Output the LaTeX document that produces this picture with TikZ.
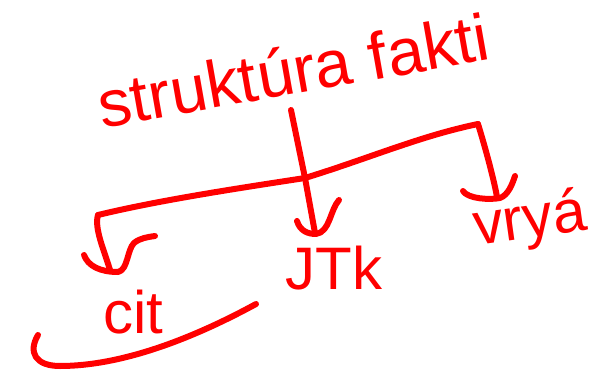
\documentclass[tikz,border=0pt]{standalone}
\usepackage{fontspec}
\setmainfont{Liberation Sans}
\begin{document}
\begin{tikzpicture}[x=1pt,y=-1pt,
  pen/.style={draw=red, line width=6pt, line cap=round, line join=round},
  hand/.style={text=red, inner sep=0pt, font=\fontsize{60}{60}\selectfont}]
\useasboundingbox (0,0) rectangle (615,374);
% title
\node[hand, font=\fontsize{66}{66}\selectfont, rotate=10] (T) at (293,70) {struktúra fakti};
% children
\node[hand] (cit) at (133,312) {cit};
\node[hand] (jtk) at (334,268) {JTk};
\node[hand, rotate=8] (vr) at (530,222) {vryá};
% coordinates
\coordinate (Ttop) at (291,110);
\coordinate (J) at (305,178);
\coordinate (Lc) at (98,215);
\coordinate (Rc) at (478,124);
\coordinate (Ltip) at (110,270);
\coordinate (Mtip) at (315,233);
\coordinate (Rtip) at (497,197);
% trunk
\draw[pen] (Ttop) -- (J);
% branch bar
\draw[pen] (Lc) .. controls (160,200) and (240,188) .. (J) .. controls (370,158) and (420,136) .. (Rc);
% drops
\draw[pen] (Lc) .. controls (94,228) and (104,250) .. (Ltip);
\draw[pen] (J) -- (Mtip);
\draw[pen] (Rc) .. controls (486,150) and (494,180) .. (Rtip);
% hooks
\draw[pen] (84,255) .. controls (88,266) and (100,272) .. (118,272) .. controls (128,270) and (127,250) .. (134,243) .. controls (140,238) and (148,237) .. (155,236);
\draw[pen] (297,221) .. controls (300,231) and (308,234) .. (316,234) .. controls (330,232) and (330,210) .. (339,200);
\draw[pen] (463,191) .. controls (468,199) and (490,200) .. (500,198) .. controls (508,195) and (512,185) .. (515,176);
% underline swoosh
\draw[pen] (38,335) .. controls (28,352) and (35,366) .. (60,366) .. controls (120,366) and (190,340) .. (256,304);
\end{tikzpicture}
\end{document}
